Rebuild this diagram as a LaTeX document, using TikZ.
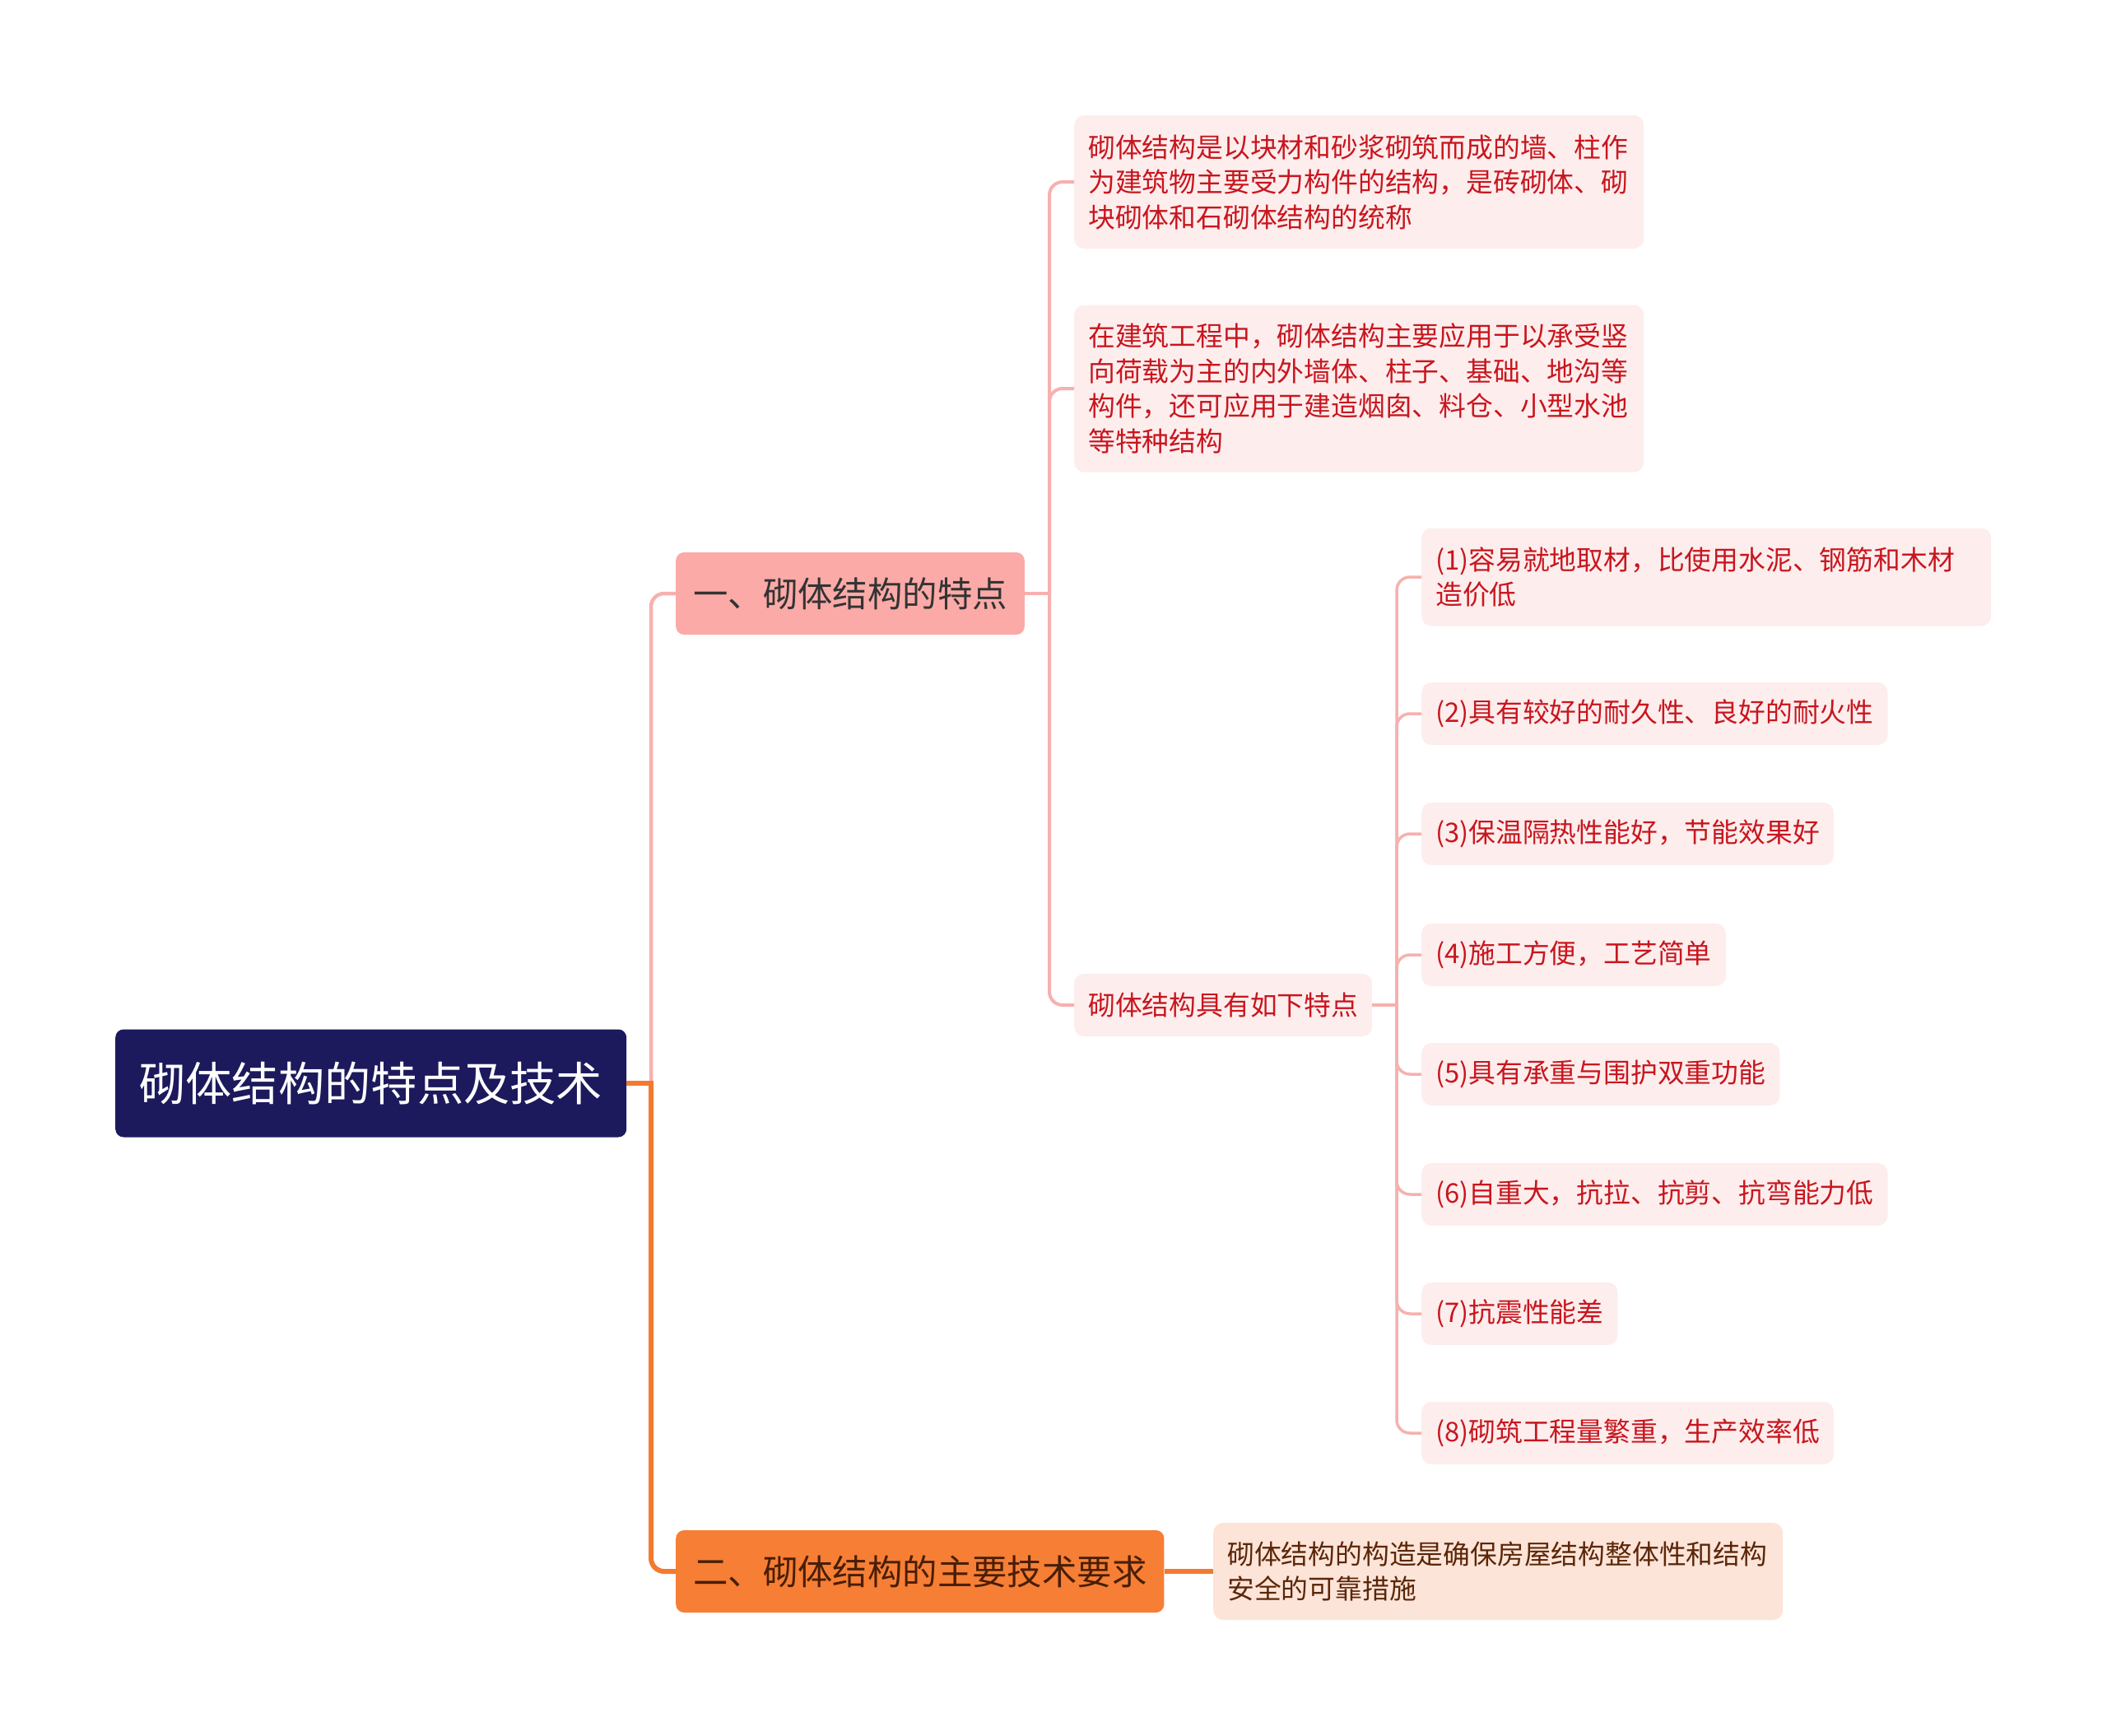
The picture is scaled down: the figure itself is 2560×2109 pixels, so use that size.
\documentclass[tikz,border=0pt]{standalone}
\usepackage{fontspec}
\setmainfont{Noto Sans CJK SC}
\definecolor{rootfill}{HTML}{1C1A5C}
\definecolor{pinkfill}{HTML}{FBAAA7}
\definecolor{pinkln}{HTML}{F6B1AE}
\definecolor{leaffill}{HTML}{FDEDED}
\definecolor{leaftext}{HTML}{C8161E}
\definecolor{orangefill}{HTML}{F67E35}
\definecolor{orangeln}{HTML}{F47A30}
\definecolor{peachfill}{HTML}{FDE4D8}
\definecolor{browntext}{HTML}{5B2608}
\tikzset{
  topic/.style={anchor=west, fill=rootfill, text=white, rounded corners=10pt,
    inner xsep=29pt, inner ysep=0pt, minimum height=131pt,
    font=\fontsize{56.3}{70}\selectfont},
  branch/.style={anchor=west, rounded corners=10pt, inner xsep=21pt,
    inner ysep=0pt, minimum height=100pt, font=\fontsize{42.4}{52}\selectfont},
  leaf/.style={anchor=west, fill=leaffill, text=leaftext, rounded corners=12pt,
    inner xsep=17pt, inner ysep=0pt, minimum height=76pt, align=left,
    font=\fontsize{32.8}{42.5}\selectfont},
  wide/.style={text width=658pt},
  pinkedge/.style={draw=pinkln, line width=4.5pt, rounded corners=16pt},
  orangeedge/.style={draw=orangeln, line width=6pt, rounded corners=16pt},
}
\begin{document}
\begin{tikzpicture}[x=1pt,y=-1pt]
  \useasboundingbox (0,0) rectangle (2560,2109);
  % nodes
  \node[topic] (root) at (140,1316) {砌体结构的特点及技术};
  \node[branch, fill=pinkfill, text=black!80] (a) at (821,721) {一、砌体结构的特点};
  \node[branch, fill=orangefill, text=browntext!80!black] (b) at (821,1909) {二、砌体结构的主要技术要求};
  \node[leaf, wide, minimum height=162pt] (a1) at (1305,221)
    {砌体结构是以块材和砂浆砌筑而成的墙、柱作\\为建筑物主要受力构件的结构，是砖砌体、砌\\块砌体和石砌体结构的统称};
  \node[leaf, wide, minimum height=203pt] (a2) at (1305,472)
    {在建筑工程中，砌体结构主要应用于以承受竖\\向荷载为主的内外墙体、柱子、基础、地沟等\\构件，还可应用于建造烟囱、料仓、小型水池\\等特种结构};
  \node[leaf] (a3) at (1305,1221) {砌体结构具有如下特点};
  \node[leaf, wide, minimum height=119pt] (c1) at (1727,701)
    {(1)容易就地取材，比使用水泥、钢筋和木材\\造价低};
  \node[leaf] (c2) at (1727,867) {(2)具有较好的耐久性、良好的耐火性};
  \node[leaf] (c3) at (1727,1013) {(3)保温隔热性能好，节能效果好};
  \node[leaf] (c4) at (1727,1160) {(4)施工方便，工艺简单};
  \node[leaf] (c5) at (1727,1305) {(5)具有承重与围护双重功能};
  \node[leaf] (c6) at (1727,1451) {(6)自重大，抗拉、抗剪、抗弯能力低};
  \node[leaf] (c7) at (1727,1596) {(7)抗震性能差};
  \node[leaf] (c8) at (1727,1741) {(8)砌筑工程量繁重，生产效率低};
  \node[leaf, wide, fill=peachfill, text=browntext, minimum height=118pt] (b1) at (1474,1909)
    {砌体结构的构造是确保房屋结构整体性和结构\\安全的可靠措施};
  % junctions
  \coordinate (rj) at (791,1316);
  \coordinate (aj) at (1275,721);
  \coordinate (cj) at (1697,1221);
  % edges
  \draw[pinkedge] (rj) |- (a.west);
  \draw[orangeedge] (rj) |- (b.west);
  \draw[orangeedge] (root.east) -- (794,1316);
  \draw[orangeedge] (b.east) -- (b1.west);
  \draw[pinkedge] (a.east) -- (aj);
  \foreach \n in {a1,a2,a3}
    \draw[pinkedge, line width=4pt] (aj) |- (\n.west);
  \draw[pinkedge, line width=4pt] (a3.east) -- (cj);
  \foreach \n in {c1,c2,c3,c4,c5,c6,c7,c8}
    \draw[pinkedge, line width=3.5pt] (cj) |- (\n.west);
\end{tikzpicture}
\end{document}
